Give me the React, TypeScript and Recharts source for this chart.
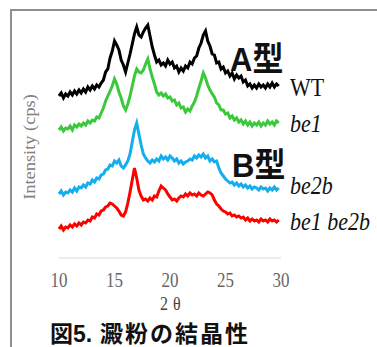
import { LineChart, Line, XAxis, YAxis } from 'recharts'

// 2θ positions (deg)
const twoTheta = [
  10, 10.2, 10.4, 10.6, 10.8, 11, 11.2, 11.4, 11.6, 11.8,
  12, 12.2, 12.4, 12.6, 12.8, 13, 13.2, 13.4, 13.6, 13.8,
  14, 14.2, 14.4, 14.6, 14.8, 15, 15.2, 15.4, 15.6, 15.8,
  16, 16.2, 16.4, 16.6, 16.8, 17, 17.2, 17.4, 17.6, 17.8,
  18, 18.2, 18.4, 18.6, 18.8, 19, 19.2, 19.4, 19.6, 19.8,
  20, 20.2, 20.4, 20.6, 20.8, 21, 21.2, 21.4, 21.6, 21.8,
  22, 22.2, 22.4, 22.6, 22.8, 23, 23.2, 23.4, 23.6, 23.8,
  24, 24.2, 24.4, 24.6, 24.8, 25, 25.2, 25.4, 25.6, 25.8,
  26, 26.2, 26.4, 26.6, 26.8, 27, 27.2, 27.4, 27.6, 27.8,
  28, 28.2, 28.4, 28.6, 28.8, 29, 29.2, 29.4, 29.6, 29.8,
]

// intensities, offset per sample so the traces stack
const wt = [
  162, 165, 160, 164, 162, 166, 163, 167, 164, 168,
  165, 169, 166, 171, 168, 172, 169, 173, 171, 175,
  178, 186, 189, 200, 207, 217, 213, 208, 198, 193,
  186, 195, 204, 214, 224, 231, 223, 221, 226, 230,
  233, 222, 211, 203, 196, 198, 193, 195, 192, 198,
  194, 196, 190, 192, 186, 190, 187, 192, 190, 196,
  194, 200, 202, 210, 215, 223, 227, 217, 212, 204,
  203, 195, 196, 189, 191, 185, 187, 182, 185, 179,
  183, 180, 182, 176, 178, 172, 174, 170, 173, 170,
  174, 171, 173, 170, 174, 171, 175, 171, 174, 172,
]

const be1 = [
  128, 131, 127, 130, 129, 132, 128, 133, 131, 134,
  132, 135, 133, 137, 135, 138, 137, 141, 140, 145,
  150, 157, 162, 167, 172, 179, 174, 166, 160, 152,
  148, 154, 162, 172, 182, 189, 186, 185, 188, 194,
  199, 189, 181, 174, 166, 163, 165, 162, 164, 160,
  161, 157, 158, 153, 155, 150, 151, 146, 149, 147,
  152, 156, 162, 170, 177, 185, 180, 173, 168, 164,
  161, 155, 153, 148, 148, 144, 145, 140, 142, 138,
  140, 136, 138, 134, 137, 133, 136, 132, 135, 133,
  136, 132, 135, 133, 137, 134, 136, 133, 137, 135,
]

const be2b = [
  64, 67, 63, 66, 65, 68, 66, 70, 67, 71,
  70, 73, 71, 75, 74, 78, 76, 80, 79, 83,
  84, 88, 89, 93, 92, 97, 95, 98, 92, 90,
  93, 97, 104, 116, 128, 135, 124, 113, 104, 100,
  97, 95, 98, 96, 99, 97, 102, 99, 101, 98,
  102, 100, 97, 99, 95, 97, 94, 96, 97, 99,
  98, 102, 100, 103, 101, 104, 100, 102, 97, 99,
  96, 97, 90, 85, 82, 79, 77, 75, 76, 73,
  75, 72, 74, 71, 73, 70, 72, 69, 71, 70,
  68, 71, 69, 70, 67, 70, 68, 71, 68, 70,
]

const be1be2b = [
  29, 32, 28, 31, 30, 33, 31, 34, 32, 35,
  33, 36, 35, 38, 37, 41, 40, 44, 43, 47,
  48, 51, 52, 55, 54, 52, 50, 47, 43, 42,
  46, 55, 66, 78, 90, 80, 68, 62, 58, 59,
  57, 60, 58, 62, 61, 67, 72, 70, 68, 64,
  61, 58, 59, 57, 60, 62, 61, 64, 62, 65,
  63, 64, 62, 65, 63, 62, 64, 66, 65, 63,
  58, 54, 52, 49, 47, 46, 44, 45, 42, 43,
  41, 42, 40, 41, 38, 40, 37, 39, 37, 38,
  36, 39, 37, 38, 36, 39, 37, 38, 36, 38,
]

const xTicks = [10, 15, 20, 25, 30]

const data = twoTheta.map((t, i) => ({
  t,
  wt: wt[i],
  be1: be1[i],
  be2b: be2b[i],
  be1be2b: be1be2b[i],
}))

const serif = '"Liberation Serif", "Times New Roman", serif'
const gothic = '"Liberation Sans", "Noto Sans CJK JP", sans-serif'

function XTick(props: any) {
  const { x, y, payload } = props
  return (
    <text
      x={0}
      y={0}
      transform={`translate(${x} ${y + 29}) scale(1 1.18)`}
      textAnchor="middle"
      fontFamily={serif}
      fontSize={17}
      fill="#666"
    >
      {payload.value}
    </text>
  )
}

function Tag({ x, y, children, size = 22, italic = false, bold = false, family = serif, sy = 1.15, fill = '#111', spacing = 0 }: any) {
  return (
    <text
      x={0}
      y={0}
      transform={`translate(${x} ${y}) scale(1 ${sy})`}
      fontFamily={family}
      fontSize={size}
      fontStyle={italic ? 'italic' : 'normal'}
      fontWeight={bold ? 700 : 400}
      fill={fill}
      letterSpacing={spacing}
    >
      {children}
    </text>
  )
}

export default function App() {
  return (
    <div style={{ position: 'absolute', left: 0, top: 0, width: 377, height: 347, overflow: 'hidden', background: '#fff' }}>
      <div
        style={{
          position: 'absolute',
          left: 10,
          top: 9,
          width: 420,
          height: 420,
          borderTop: '2px solid #8f8f8f',
          borderLeft: '2px solid #8f8f8f',
        }}
      />
      <div style={{ position: 'absolute', left: 0, top: 0 }}>
        <LineChart width={377} height={347} data={data} margin={{ top: 22, right: 96, bottom: 59, left: 59 }}>
          <XAxis
            dataKey="t"
            type="number"
            domain={[10, 30]}
            ticks={xTicks}
            height={30}
            tickSize={0}
            tickMargin={0}
            tickLine={false}
            axisLine={{ stroke: '#d9d9d9' }}
            tick={<XTick />}
          />
          <YAxis
            type="number"
            domain={[0, 236]}
            width={0}
            tick={false}
            tickLine={false}
            axisLine={{ stroke: '#d9d9d9' }}
          />
          <Line type="linear" dataKey="wt" stroke="#000000" strokeWidth={3} strokeLinejoin="miter" dot={false} isAnimationActive={false} />
          <Line type="linear" dataKey="be1" stroke="#3cc83c" strokeWidth={3} strokeLinejoin="miter" dot={false} isAnimationActive={false} />
          <Line type="linear" dataKey="be2b" stroke="#12aeee" strokeWidth={3} strokeLinejoin="miter" dot={false} isAnimationActive={false} />
          <Line type="linear" dataKey="be1be2b" stroke="#ff0000" strokeWidth={3} strokeLinejoin="miter" dot={false} isAnimationActive={false} />
        </LineChart>
      </div>
      <svg width={377} height={347} style={{ position: 'absolute', left: 0, top: 0, pointerEvents: 'none' }}>
        <text
          x={0}
          y={0}
          transform="translate(35 147) scale(1 1.15) rotate(-90)"
          textAnchor="middle"
          fontFamily={serif}
          fontSize={16}
          fill="#808080"
        >
          Intensity (cps)
        </text>
        <Tag x={230} y={71} size={31} bold family={gothic} sy={1.1}>A型</Tag>
        <Tag x={232} y={177} size={31} bold family={gothic} sy={1.1}>B型</Tag>
        <Tag x={290} y={96}>WT</Tag>
        <Tag x={290} y={132} italic>be1</Tag>
        <Tag x={290} y={194} italic>be2b</Tag>
        <Tag x={290} y={230} italic>be1 be2b</Tag>
        <Tag x={160} y={310} size={16} fill="#444" spacing={5}>2θ</Tag>
        <Tag x={50} y={342} size={23} bold family={gothic} sy={1}>図5.</Tag>
        <Tag x={100} y={342} size={23} bold family={gothic} sy={1} spacing={2}>澱粉の結晶性</Tag>
      </svg>
    </div>
  )
}
